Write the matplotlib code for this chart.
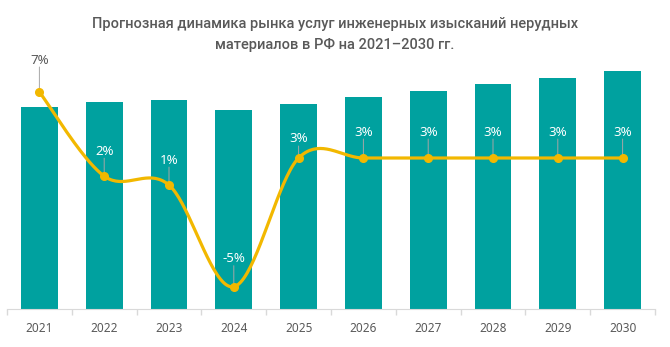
import matplotlib.pyplot as plt
import numpy as np

plt.rcParams['font.family'] = ['Noto Sans', 'DejaVu Sans']

# data
years = ["2021", "2022", "2023", "2024", "2025", "2026", "2027", "2028", "2029", "2030"]
market = [202, 207, 209, 199, 205, 212, 218, 225, 231, 238]          # relative volume
growth = [7.0, 1.9, 1.36, -4.8, 3.0, 3.0, 3.0, 3.0, 3.0, 3.0]        # % y/y
label_off = [32, 25, 25, 28, 19, 26, 26, 26, 26, 26]                 # px above point

bar_col = "#00A19F"
line_col = "#F2B800"
text_col = "#595959"

fig = plt.figure(figsize=(6.7, 3.47), dpi=100)
ax = fig.add_axes([7/670, 38/347, 648/670, 249/347])
ax2 = ax.twinx()

x = np.arange(len(years))
ax.bar(x, market, width=0.57, color=bar_col, zorder=1)
ax.set_xlim(-0.5, len(years) - 0.5)
ax.set_ylim(0, 249)

# smoothed line (Catmull-Rom through the points, like Excel smoothing)
def smooth(xs, ys, n=40):
    P = np.column_stack([xs, ys]).astype(float)
    P = np.vstack([P[0], P, P[-1]])
    out = []
    for i in range(1, len(P) - 2):
        p0, p1, p2, p3 = P[i-1], P[i], P[i+1], P[i+2]
        c1 = p1 + (p2 - p0) / 6
        c2 = p2 - (p3 - p1) / 6
        t = np.linspace(0, 1, n)[:, None]
        out.append((1-t)**3*p1 + 3*(1-t)**2*t*c1 + 3*(1-t)*t**2*c2 + t**3*p2)
    out = np.vstack(out)
    return out[:, 0], out[:, 1]

sx, sy = smooth(x, growth)
ax2.plot(sx, sy, color=line_col, lw=2.3, zorder=3, solid_capstyle='round')
ax2.plot(x, growth, 'o', color=line_col, ms=5.5, zorder=4)
ax2.set_ylim(-101.5/16.5, (249-101.5)/16.5)

pt = 0.72  # points per pixel
for i, g in enumerate(growth):
    lab = "{:.0f}%".format(round(g))
    col = text_col if i == 0 else "white"
    off = label_off[i]
    ax2.annotate(lab, (x[i], g), xytext=(0, off*pt), textcoords='offset points',
                 ha='center', va='center', fontsize=9.5, color=col, zorder=5)
    ax2.annotate("", (x[i], g), xytext=(0, (off-7)*pt), textcoords='offset points',
                 arrowprops=dict(arrowstyle='-', color='#A6A6A6', lw=0.7,
                                 shrinkA=0, shrinkB=0), zorder=3.5)

for a in (ax, ax2):
    for s in ("top", "right", "left"):
        a.spines[s].set_visible(False)
    a.set_yticks([])
ax2.spines["bottom"].set_visible(False)
ax.spines["bottom"].set_color("#D9D9D9")
ax.set_xticks(x)
ax.set_xticklabels(years, color=text_col, fontsize=8.5)
ax.tick_params(axis='x', length=0, pad=9)
ax.set_xticks(np.arange(-0.5, len(years)), minor=True)
ax.tick_params(axis='x', which='minor', length=4, color="#D9D9D9", width=1)

fig.text(0.5, 0.95, "Прогнозная динамика рынка услуг инженерных изысканий нерудных\n"
         "материалов в РФ на 2021–2030 гг.", ha='center', va='top',
         fontsize=10.5, color=text_col, linespacing=1.6, weight='medium',
         family=['Roboto', 'DejaVu Sans'])

fig.savefig("out.png", dpi=100)
